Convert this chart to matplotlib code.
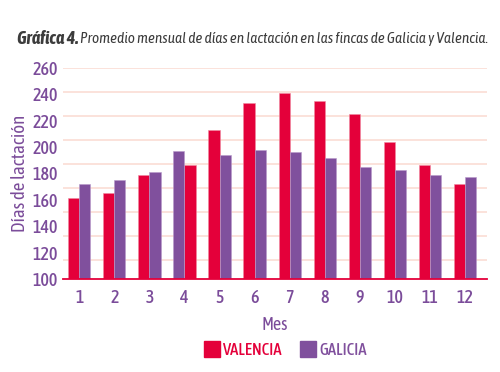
import matplotlib
matplotlib.use("Agg")
import matplotlib.pyplot as plt
import numpy as np
from matplotlib.lines import Line2D

months = [1, 2, 3, 4, 5, 6, 7, 8, 9, 10, 11, 12]
valencia = [161, 165, 179, 186, 213, 233, 241, 235, 225, 203.5, 186, 172]
galicia = [172, 175, 181, 197, 194, 198, 196, 192, 185, 182.5, 179, 177.5]
galicia_first = [4]  # months where the Galicia bar is drawn on the left
yticks = [100, 120, 140, 160, 180, 200, 220, 240, 260]
series_names = ["VALENCIA", "GALICIA"]

RED = "#E4003A"
PURPLE = "#80509D"
GRID = "#FBE2DA"
TEXT = "#7B4C9A"
FONT = ["Asap Condensed", "DejaVu Sans"]
plt.rcParams["font.family"] = FONT
plt.rcParams["font.weight"] = 500

fig = plt.figure(figsize=(5.0, 3.72), dpi=100)
ax = fig.add_axes([0.126, 0.25, 0.848, 0.568])

w = 0.315
vpos = np.array([m + (w / 2 if m in galicia_first else -w / 2) for m in months])
gpos = np.array([m + (-w / 2 if m in galicia_first else w / 2) for m in months])

# decorative gridlines (evenly spaced in axes fraction, as in the reference)
ax.hlines([1 - k * 0.1137 for k in range(9)], 0, 1, colors=GRID, lw=1.4,
          transform=ax.transAxes, zorder=0)

ax.bar(vpos, np.array(valencia) - 100, bottom=100, width=w, color=RED,
       edgecolor="#F08AA0", linewidth=0.4, zorder=2)
ax.bar(gpos, np.array(galicia) - 100, bottom=100, width=w, color=PURPLE,
       edgecolor="#B89ACB", linewidth=0.4, zorder=2)

ax.set_ylim(100, 260)
ax.set_xlim(0.53, 12.64)
ax.set_yticks(yticks)
ax.set_xticks(months)
ax.set_xticklabels([str(m) for m in months])
for s in ["top", "right", "left"]:
    ax.spines[s].set_visible(False)
ax.spines["bottom"].set_color(RED)
ax.spines["bottom"].set_linewidth(1.3)
ax.spines["bottom"].set_zorder(3)
ax.tick_params(axis="both", length=0, colors=TEXT, labelsize=13)
ax.tick_params(axis="y", pad=4)
ax.tick_params(axis="x", pad=7)

ax.set_ylabel("Días de lactación", color=TEXT, fontsize=13.5, labelpad=2)
ax.set_xlabel("Mes", color=TEXT, fontsize=13, labelpad=7)

t1 = fig.text(0.034, 0.895, "Gráfica 4.", fontsize=13, fontstyle="italic",
              fontweight="bold", color="#3C3C3C", va="center")
fig.canvas.draw()
bb = t1.get_window_extent()
x2 = (bb.x1 + 2) / fig.bbox.width
fig.text(x2, 0.895,
         "Promedio mensual de días en lactación en las fincas de Galicia y Valencia.",
         fontsize=11, fontstyle="italic", fontweight="normal", color="#3C3C3C",
         va="center")

handles = [Line2D([], [], marker="s", ls="", markersize=12, color=RED),
           Line2D([], [], marker="s", ls="", markersize=12, color=PURPLE)]
leg = fig.legend(handles, series_names, loc="center", bbox_to_anchor=(0.57, 0.058),
                 ncol=2, frameon=False, fontsize=12, handletextpad=0.2,
                 columnspacing=1.0, handlelength=1.0)
for t, c in zip(leg.get_texts(), [RED, PURPLE]):
    t.set_color(c)

fig.savefig("out.png", dpi=100)
